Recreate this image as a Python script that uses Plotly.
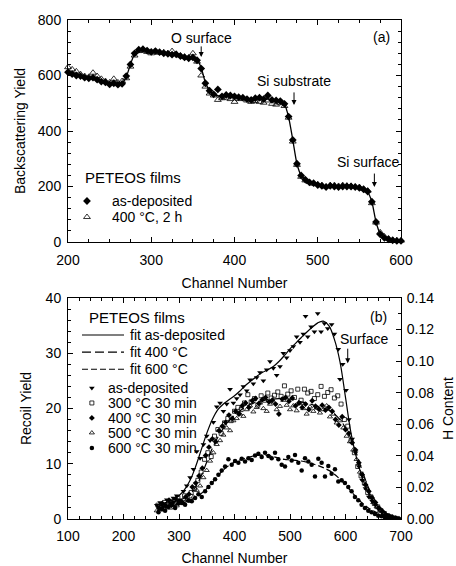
import plotly.graph_objects as go

# ---------------- Panel (a) data ----------------
rbs_channel = list(range(200, 601, 5))
rbs_as_dep = [612, 605, 600, 598, 592, 590, 592, 585, 578, 575, 568, 572, 567, 570, 598, 640, 680, 693, 695, 690,
              685, 688, 684, 680, 678, 675, 676, 670, 665, 662, 665, 655, 625, 572, 545, 532, 550, 525, 530, 528,
              525, 522, 520, 515, 512, 518, 520, 515, 528, 512, 510, 508, 498, 452, 368, 282, 240, 225, 215, 212,
              205, 202, 198, 202, 200, 198, 200, 200, 200, 198, 195, 190, 182, 145, 72, 28, 15, 10, 6, 4, 4]
rbs_400_2h = [630, 622, 615, 605, 598, 595, 610, 598, 588, 580, 575, 588, 575, 580, 590, 632, 672, 688, 690, 685,
              680, 688, 682, 684, 680, 688, 678, 672, 668, 665, 680, 650, 600, 560, 535, 528, 512, 518, 520, 515,
              505, 515, 518, 510, 505, 508, 505, 502, 510, 498, 495, 500, 490, 448, 362, 278, 235, 222, 216, 210,
              208, 205, 200, 205, 205, 202, 205, 203, 202, 200, 198, 192, 185, 140, 70, 35, 20, 12, 8, 6, 5]
rbs_fit_x = [200, 210, 220, 230, 240, 250, 260, 265, 270, 275, 280, 285, 290, 300, 310, 320, 330, 340, 350, 355,
             360, 365, 370, 375, 380, 390, 400, 410, 420, 430, 440, 450, 455, 460, 465, 470, 475, 480, 485, 490,
             500, 510, 520, 530, 540, 550, 555, 560, 565, 570, 575, 580, 585, 590, 600]
rbs_fit_y = [610, 603, 596, 592, 582, 572, 568, 572, 595, 640, 678, 690, 692, 688, 684, 680, 676, 670, 665, 658,
             628, 575, 545, 532, 527, 524, 522, 520, 516, 516, 515, 510, 506, 497, 450, 368, 282, 240, 225, 215,
             207, 202, 200, 200, 200, 196, 190, 180, 145, 72, 30, 15, 9, 6, 4]

# ---------------- Panel (b) data ----------------
erd_asdep_x = [260, 266, 272, 278, 284, 290, 296, 302, 308, 314, 320, 326, 332, 338, 344, 350, 356, 362, 368, 374,
               380, 386, 392, 398, 404, 410, 416, 422, 428, 434, 440, 446, 452, 458, 464, 470, 476, 482, 488, 494,
               500, 506, 512, 518, 524, 528, 532, 538, 544, 550, 556, 562, 568, 575, 580, 587, 590, 595, 601, 606,
               612, 618, 624, 630, 636, 642, 648, 654, 660, 666, 672, 678, 684, 690, 696]
erd_asdep_y = [2.5, 3.0, 2.2, 3.5, 2.8, 3.8, 4.2, 3.5, 5.0, 6.0, 7.5, 9.0, 12.2, 11.0, 13.5, 15.0, 14.2, 17.5, 20.3, 21.0,
               19.5, 20.8, 23.5, 21.0, 21.8, 22.5, 24.0, 23.2, 25.2, 24.5, 25.6, 26.5, 25.0, 27.0, 28.5, 27.3, 26.0, 27.6, 30.0, 29.2,
               30.5, 31.2, 33.0, 32.0, 33.5, 36.7, 33.0, 34.8, 33.9, 37.2, 33.9, 35.4, 34.5, 35.2, 33.5, 30.7, 25.3, 28.0, 23.3, 18.0,
               14.5, 12.0, 9.5, 7.0, 5.5, 4.0, 3.2, 2.5, 1.8, 1.2, 0.8, 0.5, 0.3, 0.2, 0.1]

erd_300_x = list(range(262, 695, 6))
erd_300_y = [2.5, 1.8, 3.0, 2.2, 3.2, 2.6, 3.8, 3.0, 4.2, 3.6, 4.8, 5.5, 7.0, 8.5, 10.8, 12.0, 11.3, 15.0, 16.2, 15.5,
             17.4, 18.2, 17.8, 19.5, 20.2, 19.8, 21.0, 22.5, 21.2, 21.8, 20.6, 22.3, 21.5, 22.8, 21.9, 22.4, 23.0, 22.2, 24.1, 22.6,
             23.2, 22.0, 23.5, 21.5, 23.5, 22.8, 23.1, 21.8, 22.5, 24.0, 22.2, 22.9, 23.4, 21.9, 22.3, 20.8, 18.0, 16.8, 14.2, 12.0,
             9.5, 7.8, 6.5, 4.8, 4.0, 2.8, 2.2, 1.5, 1.0, 0.6, 0.4, 0.2, 0.1]

erd_400_x = list(range(264, 691, 6))
erd_400_y = [2.0, 2.8, 2.4, 3.4, 2.9, 3.6, 3.2, 3.0, 4.0, 4.5, 5.8, 6.5, 7.8, 9.2, 11.5, 13.0, 14.5, 14.0, 16.0, 16.8,
             17.5, 18.8, 18.2, 19.5, 19.0, 20.5, 21.0, 20.2, 21.4, 21.8, 20.9, 21.6, 22.0, 21.2, 21.5, 20.8, 19.0, 21.7, 22.0, 21.3,
             21.9, 20.5, 21.0, 20.2, 20.8, 19.8, 21.4, 20.4, 19.9, 20.6, 19.7, 20.2, 19.5, 18.0, 17.0, 18.5, 16.2, 15.5, 13.8, 12.5,
             10.2, 8.0, 6.2, 5.0, 3.8, 3.0, 2.0, 1.4, 0.8, 0.5, 0.3, 0.1]

erd_500_x = list(range(260, 693, 6))
erd_500_y = [1.5, 2.2, 1.8, 2.6, 2.0, 2.8, 2.4, 3.2, 2.8, 3.5, 3.2, 4.0, 5.2, 6.0, 7.5, 8.8, 10.5, 12.0, 13.5, 14.2,
             15.2, 16.5, 16.0, 17.8, 18.2, 19.0, 18.6, 19.8, 20.5, 19.4, 20.2, 21.0, 20.0, 19.5, 20.8, 21.2, 19.8, 20.4, 21.5, 20.6,
             19.8, 20.5, 19.6, 20.9, 20.0, 19.0, 20.3, 19.5, 20.1, 19.2, 19.8, 20.5, 18.5, 19.0, 17.4, 17.8, 16.5, 15.0, 14.0, 12.5,
             10.8, 8.5, 7.2, 5.6, 4.2, 3.0, 2.2, 1.6, 1.0, 0.6, 0.4, 0.2, 0.1]

erd_600_x = list(range(263, 696, 6))
erd_600_y = [1.2, 1.8, 1.5, 2.2, 2.5, 2.0, 2.8, 3.0, 2.6, 3.4, 3.2, 3.8, 4.5, 4.0, 5.0, 5.8, 6.5, 7.2, 8.0, 8.8,
             9.5, 10.8, 9.8, 10.5, 10.2, 10.9, 10.4, 11.0, 10.7, 11.5, 11.8, 11.2, 12.0, 11.4, 11.0, 12.0, 10.8, 9.8, 9.5, 11.2,
             10.6, 11.6, 10.2, 8.8, 11.0, 10.4, 9.8, 7.7, 10.9, 10.2, 7.7, 9.6, 8.2, 9.0, 6.8, 7.0, 6.5, 5.8, 5.0, 4.0,
             3.4, 2.6, 2.0, 1.5, 1.2, 0.9, 0.6, 0.5, 0.3, 0.2, 0.1, 0.05, 0.02]

fit_x = [260, 270, 280, 290, 300, 310, 320, 330, 340, 350, 360, 370, 380, 390, 400, 410, 420, 430, 440, 450,
         460, 470, 480, 490, 500, 510, 520, 530, 540, 550, 560, 570, 580, 590, 600, 610, 620, 630, 640, 650,
         660, 670, 680, 690, 700]
fit_asdep = [2.5, 2.8, 3.1, 3.5, 4.2, 5.3, 7.0, 9.5, 12.5, 15.5, 18.0, 19.8, 20.8, 21.6, 22.3, 23.2, 24.2, 25.0, 25.8, 26.5,
             27.0, 27.6, 28.5, 29.6, 30.8, 31.8, 32.8, 33.8, 34.7, 35.5, 35.8, 35.0, 32.5, 28.5, 22.0, 15.5, 11.0, 7.5, 5.0, 3.3,
             2.0, 1.2, 0.6, 0.3, 0.1]
fit_400 = [2.2, 2.5, 2.8, 3.1, 3.4, 3.8, 4.5, 5.8, 7.8, 10.3, 12.8, 14.8, 16.4, 17.7, 18.8, 19.6, 20.3, 20.8, 21.2, 21.4,
           21.6, 21.7, 21.8, 21.8, 21.7, 21.5, 21.2, 21.0, 20.7, 20.4, 20.1, 19.7, 19.0, 18.0, 16.5, 14.5, 11.8, 8.8, 6.0, 3.9,
           2.4, 1.4, 0.7, 0.3, 0.1]
fit_600 = [1.5, 1.8, 2.1, 2.4, 2.7, 3.0, 3.4, 3.9, 4.6, 5.5, 6.6, 7.8, 8.9, 9.7, 10.3, 10.7, 11.0, 11.3, 11.5, 11.6,
           11.5, 11.3, 11.0, 10.8, 10.7, 10.6, 10.5, 10.3, 10.0, 9.7, 9.3, 8.8, 8.1, 7.2, 6.2, 5.0, 3.9, 2.9, 2.1, 1.5,
           1.0, 0.6, 0.3, 0.15, 0.05]

# legend labels
legend_a_labels = ["as-deposited", "400 \u00b0C, 2 h"]
legend_b_line_labels = ["fit as-deposited", "fit 400 \u00b0C", "fit 600 \u00b0C"]
legend_b_marker_labels = ["as-deposited", "300 \u00b0C 30 min", "400 \u00b0C 30 min", "500 \u00b0C 30 min", "600 \u00b0C 30 min"]

FONT = "Liberation Sans, Arial, sans-serif"
BLACK = "black"

fig = go.Figure()

# ---- panel (a) traces ----
fig.add_trace(go.Scatter(x=rbs_fit_x, y=rbs_fit_y, mode="lines", line=dict(color=BLACK, width=1.3, shape="spline", smoothing=0.6),
                         xaxis="x", yaxis="y", showlegend=False, hoverinfo="skip"))
fig.add_trace(go.Scatter(x=rbs_channel, y=rbs_400_2h, mode="markers", cliponaxis=False,
                         marker=dict(symbol="triangle-up-open", size=6, color=BLACK, line=dict(width=0.8)),
                         xaxis="x", yaxis="y", showlegend=False))
fig.add_trace(go.Scatter(x=rbs_channel, y=rbs_as_dep, mode="markers", cliponaxis=False,
                         marker=dict(symbol="diamond", size=6, color=BLACK),
                         xaxis="x", yaxis="y", showlegend=False))

# ---- panel (b) traces ----
fig.add_trace(go.Scatter(x=fit_x, y=fit_asdep, mode="lines", line=dict(color=BLACK, width=1.2, shape="spline"),
                         xaxis="x2", yaxis="y2", showlegend=False))
fig.add_trace(go.Scatter(x=fit_x, y=fit_400, mode="lines", line=dict(color=BLACK, width=1.2, shape="spline", dash="9px,4px"),
                         xaxis="x2", yaxis="y2", showlegend=False))
fig.add_trace(go.Scatter(x=fit_x, y=fit_600, mode="lines", line=dict(color=BLACK, width=1.2, shape="spline", dash="6px,3px"),
                         xaxis="x2", yaxis="y2", showlegend=False))

series_b = [
    (erd_asdep_x, erd_asdep_y, dict(symbol="triangle-down", size=5, color=BLACK)),
    (erd_300_x, erd_300_y, dict(symbol="square-open", size=4, color=BLACK, line=dict(width=0.8))),
    (erd_400_x, erd_400_y, dict(symbol="diamond", size=4.5, color=BLACK)),
    (erd_500_x, erd_500_y, dict(symbol="triangle-up-open", size=4.5, color=BLACK, line=dict(width=0.8))),
    (erd_600_x, erd_600_y, dict(symbol="circle", size=4.5, color=BLACK)),
]
for sx, sy, mk in series_b:
    fig.add_trace(go.Scatter(x=sx, y=sy, mode="markers", marker=mk, xaxis="x2", yaxis="y2", showlegend=False))

# empty trace so that the right-hand H-content axis is drawn
fig.add_trace(go.Scatter(x=[], y=[], mode="markers", xaxis="x2", yaxis="y3", showlegend=False))

# ---- manual legend keys ----
leg_a_x = [222.8, 222.8]
leg_a_y = [147.7, 90.0]
fig.add_trace(go.Scatter(x=[leg_a_x[0]], y=[leg_a_y[0]], mode="markers", marker=dict(symbol="diamond", size=6, color=BLACK),
                         xaxis="x", yaxis="y", showlegend=False))
fig.add_trace(go.Scatter(x=[leg_a_x[1]], y=[leg_a_y[1]], mode="markers",
                         marker=dict(symbol="triangle-up-open", size=6, color=BLACK, line=dict(width=0.8)),
                         xaxis="x", yaxis="y", showlegend=False))

leg_b_mx = 143.0
leg_b_my = [23.7, 21.0, 18.3, 15.6, 12.85]
for (sx, sy, mk), yy in zip(series_b, leg_b_my):
    fig.add_trace(go.Scatter(x=[leg_b_mx], y=[yy], mode="markers", marker=mk, xaxis="x2", yaxis="y2", showlegend=False))

leg_b_line_x = [125.2, 200.9]
leg_b_line_y = [33.3, 30.2, 27.1]
dashes = ["solid", "9px,4px", "6px,3px"]
for yy, d in zip(leg_b_line_y, dashes):
    fig.add_trace(go.Scatter(x=leg_b_line_x, y=[yy, yy], mode="lines", line=dict(color=BLACK, width=1.2, dash=d),
                             xaxis="x2", yaxis="y2", showlegend=False))

anns = []
def txt(x, y, t, xref, yref, xanchor="center", size=14):
    anns.append(dict(x=x, y=y, text=t, xref=xref, yref=yref, showarrow=False, xanchor=xanchor, yanchor="middle",
                     font=dict(family=FONT, size=size, color=BLACK)))

def arrow(x, y, xref, yref, length=15):
    anns.append(dict(x=x, y=y, text="", xref=xref, yref=yref, showarrow=True, ax=0, ay=-length,
                     arrowhead=2, arrowsize=1, arrowwidth=1, arrowcolor=BLACK))

# panel (a) annotations
txt(359.8, 735, "O surface", "x", "y")
arrow(360, 667, "x", "y", 12)
txt(471.5, 580, "Si substrate", "x", "y")
arrow(471.5, 494, "x", "y", 14)
txt(559.8, 288, "Si surface", "x", "y")
arrow(568, 198, "x", "y", 15)
txt(576, 739, "(a)", "x", "y")
txt(218, 234, "PETEOS films", "x", "y", "left", 15)
txt(250.4, leg_a_y[0], legend_a_labels[0], "x", "y", "left")
txt(250.4, leg_a_y[1], legend_a_labels[1], "x", "y", "left")

# panel (b) annotations
txt(658.6, 36.6, "(b)", "x2", "y2")
txt(633, 32.6, "Surface", "x2", "y2")
arrow(604, 28.2, "x2", "y2", 16)
txt(134, 36.4, "PETEOS films", "x2", "y2", "left", 15)
for lab, yy in zip(legend_b_line_labels, leg_b_line_y):
    txt(208, yy, lab, "x2", "y2", "left")
for lab, yy in zip(legend_b_marker_labels, leg_b_my):
    txt(168.5, yy, lab, "x2", "y2", "left")

axis_common = dict(showline=True, linecolor=BLACK, linewidth=1, ticks="inside", ticklen=5, tickwidth=1, tickcolor=BLACK,
                   showgrid=False, zeroline=False, automargin=False, tickfont=dict(family=FONT, size=14, color=BLACK),
                   title_font=dict(family=FONT, size=14, color=BLACK))

fig.update_layout(
    width=456, height=566,
    margin=dict(l=68, r=55, t=20, b=47),
    paper_bgcolor="white", plot_bgcolor="white",
    showlegend=False,
    annotations=anns,
    xaxis=dict(domain=[0, 1], anchor="y", range=[200, 600], dtick=100, mirror="ticks", ticklabelstandoff=5,
               minor=dict(dtick=25, ticks="inside", ticklen=3, tickcolor=BLACK, showgrid=False),
               title=dict(text="Channel Number", standoff=11), **axis_common),
    yaxis=dict(domain=[0.5551, 1], anchor="x", range=[0, 800], dtick=200, mirror="ticks", ticklabelstandoff=3,
               minor=dict(dtick=40, ticks="inside", ticklen=3, tickcolor=BLACK, showgrid=False),
               title=dict(text="Backscattering Yield", standoff=8), **axis_common),
    xaxis2=dict(domain=[0, 1], anchor="y2", range=[100, 700], dtick=100, mirror="ticks", ticklabelstandoff=4,
                minor=dict(dtick=20, ticks="inside", ticklen=3, tickcolor=BLACK, showgrid=False),
                title=dict(text="Channel Number", standoff=12), **axis_common),
    yaxis2=dict(domain=[0, 0.4429], anchor="x2", range=[0, 40], dtick=10, ticklabelstandoff=3,
                minor=dict(dtick=2, ticks="inside", ticklen=3, tickcolor=BLACK, showgrid=False),
                title=dict(text="Recoil Yield", standoff=10), **axis_common),
    yaxis3=dict(domain=[0, 0.4429], anchor="x2", overlaying="y2", side="right", range=[0, 0.14], dtick=0.02,
                tickformat=".2f", ticklabelstandoff=2,
                minor=dict(dtick=0.01, ticks="inside", ticklen=3, tickcolor=BLACK, showgrid=False),
                title=dict(text="H Content", standoff=16), **axis_common),
)

fig.write_html("out.html")
